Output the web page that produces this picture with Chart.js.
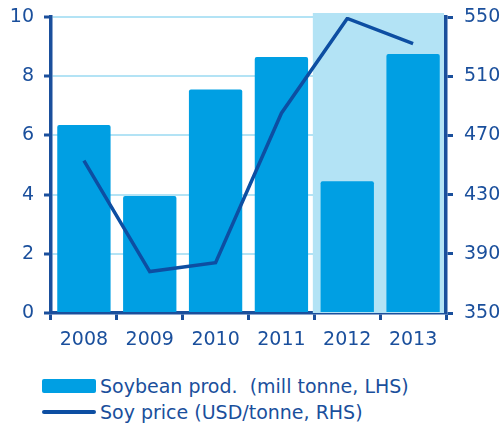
<!DOCTYPE html>
<html>
<head>
<meta charset="utf-8">
<script src="https://cdn.jsdelivr.net/npm/chart.js@4"></script>
<style>
  html, body { margin: 0; padding: 0; background: #fff; }
  #wrap { position: relative; width: 502px; height: 426px; }
  #legend { position: absolute; left: 42px; top: 373px; font-family: "DejaVu Sans", sans-serif; font-size: 19px; color: #1a4f9c; white-space: nowrap; }
  .row { display: flex; align-items: center; height: 26px; }
  .swatch-bar { width: 54px; height: 14px; background: #009fe3; border-radius: 2px; margin-right: 4px; flex: none; }
  .swatch-line { width: 54px; height: 4px; background: #0d4ea2; border-radius: 2px; margin-right: 4px; flex: none; }
</style>
</head>
<body>
<div id="wrap">
  <canvas id="c" width="502" height="352"></canvas>
  <div id="legend">
    <div class="row"><span class="swatch-bar"></span><span>Soybean prod.&nbsp; (mill tonne, LHS)</span></div>
    <div class="row"><span class="swatch-line"></span><span>Soy price (USD/tonne, RHS)</span></div>
  </div>
</div>
<script>
// Years on the category axis
const years = ['2008', '2009', '2010', '2011', '2012', '2013'];
// Soybean production, million tonnes (left axis)
const soyProd = [6.35, 3.95, 7.55, 8.65, 4.45, 8.75];
// Soy price, USD per tonne (right axis)
const soyPrice = [453, 378, 384, 485, 549, 532];
// Shaded forecast period
const shadedYears = ['2012', '2013'];

const DARK = '#1a4f9c';
const GRID = '#b3e3f5';
const FONT = { family: 'DejaVu Sans', size: 19 };

const shadePlugin = {
  id: 'shade',
  beforeDatasetsDraw(chart) {
    const x = chart.scales.x;
    const area = chart.chartArea;
    const i0 = years.indexOf(shadedYears[0]);
    const i1 = years.indexOf(shadedYears[shadedYears.length - 1]);
    const half = (x.getPixelForValue(1) - x.getPixelForValue(0)) / 2;
    const left = x.getPixelForValue(i0) - half - 1.5;
    const right = x.getPixelForValue(i1) + half - 2;
    const ctx = chart.ctx;
    ctx.save();
    ctx.fillStyle = GRID;
    ctx.fillRect(left, area.top - 4, right - left, area.bottom - area.top + 4);
    ctx.restore();
  }
};

// Fix the side axes to set widths and let the layout padding control the top edge
function fitSide(width) {
  return function (s) {
    s.width = width;
    s.paddingTop = 0;
    s.paddingBottom = 0;
  };
}

new Chart(document.getElementById('c'), {
  data: {
    labels: years,
    datasets: [
      {
        type: 'line',
        label: 'Soy price (USD/tonne, RHS)',
        data: soyPrice,
        yAxisID: 'y1',
        borderColor: '#0d4ea2',
        borderWidth: 3.5,
        pointRadius: 0,
        tension: 0,
        order: 0
      },
      {
        type: 'bar',
        label: 'Soybean prod.  (mill tonne, LHS)',
        data: soyProd,
        yAxisID: 'y',
        backgroundColor: '#009fe3',
        borderRadius: 2,
        borderSkipped: 'bottom',
        categoryPercentage: 1,
        barPercentage: 0.81,
        order: 1
      }
    ]
  },
  options: {
    responsive: false,
    animation: false,
    layout: { padding: { left: 0, right: 0, top: 17, bottom: 0 } },
    plugins: { legend: { display: false }, tooltip: { enabled: false } },
    scales: {
      x: {
        offset: true,
        afterFit(s) { s.height = 39; s.paddingLeft = 0; s.paddingRight = 0; },
        grid: { offset: true, drawOnChartArea: false, tickLength: 7, tickColor: DARK, tickWidth: 3 },
        border: { color: DARK, width: 3.5 },
        ticks: { color: DARK, font: FONT, padding: 9 }
      },
      y: {
        position: 'left',
        min: 0, max: 10,
        afterFit: fitSide(51),
        ticks: { stepSize: 2, color: DARK, font: FONT, padding: 10 },
        grid: { color: GRID, lineWidth: 2, tickColor: DARK, tickWidth: 3, tickLength: 7 },
        border: { color: DARK, width: 3.5 }
      },
      y1: {
        position: 'right',
        min: 350, max: 550,
        afterFit: fitSide(56),
        ticks: { stepSize: 40, color: DARK, font: FONT, padding: 11 },
        grid: { drawOnChartArea: false, tickColor: DARK, tickWidth: 3, tickLength: 7 },
        border: { color: DARK, width: 3.5 }
      }
    }
  },
  plugins: [shadePlugin]
});
</script>
</body>
</html>
